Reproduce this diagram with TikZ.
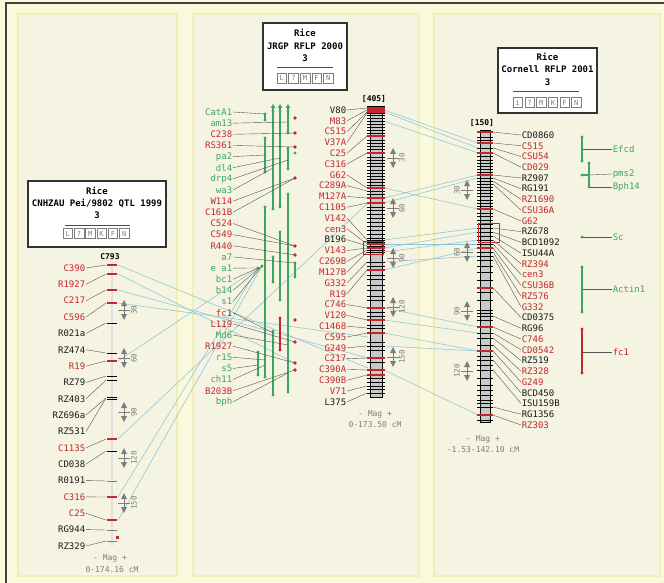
\documentclass[tikz,border=0pt]{standalone}
\usepackage{fontspec}
\setmonofont{DejaVu Sans Mono}
\usetikzlibrary{arrows.meta}

\definecolor{bgout}{RGB}{251,249,219}
\definecolor{panelfill}{RGB}{245,244,226}
\definecolor{panelrim}{RGB}{242,238,184}
\definecolor{mred}{RGB}{196,38,44}
\definecolor{mgreen}{RGB}{62,165,95}
\definecolor{mblack}{RGB}{25,25,25}
\definecolor{lnk}{RGB}{140,196,214}
\definecolor{lead}{RGB}{85,85,85}
\definecolor{bargrey}{RGB}{200,200,200}
\definecolor{sgrey}{RGB}{125,125,125}

% scale marker: x, y, value, label offset
\newcommand{\magbar}[4]{%
  \fill[sgrey] (#1-3,#2-4) -- (#1+3,#2-4) -- (#1,#2-10) -- cycle;
  \fill[sgrey] (#1-3,#2+4) -- (#1+3,#2+4) -- (#1,#2+10) -- cycle;
  \draw[sgrey, line width=0.8pt] (#1,#2-4) -- (#1,#2+4);
  \draw[sgrey, line width=0.8pt] (#1-6,#2) -- (#1+6,#2);
  \node[scl, rotate=90] (m#1-#2) at (#1+#4,#2) {#3};
}

\begin{document}
\begin{tikzpicture}[x=1pt, y=-1pt,
  lbl/.style={font=\ttfamily\fontsize{9}{9}\selectfont, inner sep=0.6pt},
  ttl/.style={font=\ttfamily\bfseries\fontsize{9}{9}\selectfont, inner sep=0pt},
  legend/.style={font=\ttfamily\fontsize{8}{8}\selectfont, text=sgrey, inner sep=0pt},
  scl/.style={font=\ttfamily\fontsize{7.5}{7.5}\selectfont, text=sgrey, inner sep=0pt},
  btn/.style={draw=sgrey, fill=white, minimum width=9.5pt, minimum height=10pt, inner sep=0pt, font=\ttfamily\fontsize{7}{7}\selectfont, text=sgrey},
  tbox/.style={draw=black!80, line width=1.2pt, fill=white, inner sep=0pt},
  panel/.style={fill=panelfill, draw=panelrim, line width=2.5pt},
  leader/.style={draw=lead, line width=0.4pt},
  link/.style={draw=lnk, line width=0.55pt},
  qtl/.style={line width=1.1pt},
  rtick/.style={mred, line width=1.1pt},
  ktick/.style={black, line width=0.9pt}
]
\fill[bgout] (0,0) rectangle (664,583);
\useasboundingbox (0,0) rectangle (664,583);

% panels
\draw[panel] (18,14) rectangle (177,576);
\draw[panel] (193,14) rectangle (419,576);
\draw[panel] (434,14) rectangle (660,576);
\draw[black!75, line width=1.4pt] (6,583) -- (6,3) -- (664,3);

% link end points
\foreach \y in {265,274,290,303,361,439,497,520} \coordinate (ra\y) at (118,\y);
\foreach \y in {203,337,358,368} \coordinate (bl\y) at (368,\y);
\foreach \y in {110,112,121,188,198,203,240,244,248,252,262,270,308,320,333,346,370} \coordinate (br\y) at (384,\y);
\foreach \y in {143,148,153,175,178,209,228,232,240,244,248,256,327,333,351,415} \coordinate (cl\y) at (478,\y);
\coordinate (tq-a) at (258,268);
\coordinate (tq-b) at (262,266);
\coordinate (tq-c) at (295,363);

% correspondence links
\draw[link] (ra265) -- (bl368);
\draw[link] (ra274) -- (tq-c);
\draw[link] (ra290) -- (bl358);
\draw[link] (ra303) -- (bl337);
\draw[link] (ra361) -- (tq-a);
\draw[link] (ra439) -- (bl203);
\draw[link] (ra497) -- (tq-a);
\draw[link] (ra520) -- (tq-b);
\foreach \a/\b in {110/143, 112/148, 121/153, 188/209, 198/175, 203/178, 240/228, 244/244, 248/232, 252/240, 262/256, 270/248, 308/327, 320/333, 333/351, 346/351, 370/415}
  \draw[link] (br\a) -- (cl\b);

% ---- map 1 ----
\node[tbox, minimum width=138pt, minimum height=66pt] (box1) at (97,214) {};
\node[ttl] (rice1) at (97,191) {Rice};
\node[ttl] (map1) at (97,203) {CNHZAU Pei/9802 QTL 1999};
\node[ttl] (chr1) at (97,215) {3};
\draw[black!70, line width=0.8pt] (65,225) -- (130,225);
\foreach \b [count=\j from 0] in {L,?,M,K,F,N}
  \node[btn] (bta\j) at (67.7+11.3*\j,233.5) {\b};
\node[lbl, font=\ttfamily\bfseries\fontsize{8}{8}\selectfont] (top1) at (110,257) {C793};

\draw[black!12, line width=1.5pt] (112,262) -- (112,546);
\foreach \y in {265,274,290,303,361,439,497,520} \draw[rtick] (107,\y) -- (117,\y);
\foreach \y in {323,353,376,380,397,399,451} \draw[ktick] (107,\y) -- (117,\y);
\foreach \y in {481,530,541} \draw[sgrey, line width=0.9pt] (107,\y) -- (117,\y);
\fill[mred] (115.5,535.5) rectangle (118.5,538.5);

\foreach \t/\c/\k [count=\i from 0] in {C390/mred/265, R1927/mred/274, C217/mred/290, C596/mred/303, R021a/mblack/323, RZ474/mblack/353, R19/mred/361, RZ79/mblack/376, RZ403/mblack/380, RZ696a/mblack/398, RZ531/mblack/398, C1135/mred/439, CD038/mblack/451, R0191/mblack/481, C316/mred/497, C25/mred/520, RG944/mblack/530, RZ329/mblack/541}{
  \node[lbl, text=\c, anchor=east] (la\i) at (86,268+16.35*\i) {\t};
  \coordinate (ka\i) at (106,\k);
  \draw[leader] (la\i.east) -- (ka\i);
}
\magbar{124}{310}{30}{10}
\magbar{124}{358}{60}{10}
\magbar{124}{412}{90}{10}
\magbar{124}{458}{120}{10}
\magbar{124}{503}{150}{10}
\node[legend] (mag1) at (110,558) {- Mag +};
\node[legend] (rng1) at (112,570) {0-174.16 cM};

% ---- map 2 ----
\node[tbox, minimum width=84pt, minimum height=67pt] (box2) at (305,56.5) {};
\node[ttl] (rice2) at (305,33) {Rice};
\node[ttl] (map2) at (305,46) {JRGP RFLP 2000};
\node[ttl] (chr2) at (305,58) {3};
\draw[black!70, line width=0.8pt] (277,67) -- (333,67);
\foreach \b [count=\j from 0] in {L,?,M,F,N}
  \node[btn] (btb\j) at (281.8+11.6*\j,78) {\b};
\node[lbl, font=\ttfamily\bfseries\fontsize{8}{8}\selectfont] (top2) at (374,99) {[405]};

% trait track
\foreach \x/\b in {273/209, 280/207, 288/133} {
  \draw[qtl, mgreen, {Triangle[width=4.5pt,length=4pt]}-] (\x,104) -- (\x,\b);
  \fill[mgreen] (\x,\b) circle[radius=1.7pt] (\x,111) circle[radius=1.7pt];
}
\foreach \x/\a/\b in {265/114/120, 265/138/172, 288/148/169, 288/194/392, 265/207/377, 280/232/300, 273/257/282, 295/263/277, 273/331/395, 258/352/375} {
  \draw[qtl, mgreen] (\x,\a) -- (\x,\b);
  \fill[mgreen] (\x,\a) circle[radius=1.7pt] (\x,\b) circle[radius=1.7pt];
}
\draw[qtl, mred] (280,318) -- (280,350);
\fill[mred] (280,318) circle[radius=1.7pt] (280,350) circle[radius=1.7pt];
\foreach \y in {118,133,147,178,246,255,320,342,363,370} \fill[mred] (295,\y) circle[radius=1.9pt];
\fill[mgreen] (295,153) circle[radius=1.7pt] (258,268) circle[radius=1.7pt] (262,266) circle[radius=1.7pt];

\foreach \t/\c/\tx/\ty [count=\i from 0] in {CatA1/mgreen/265/114, am13/mgreen/288/122, C238/mred/295/133, RS361/mred/295/147, pa2/mgreen/265/155, dl4/mgreen/280/158, drp4/mgreen/288/160, wa3/mgreen/273/168, W114/mred/295/178, C161B/mred/295/178, C524/mred/295/246, C549/mred/295/246, R440/mred/295/255, a7/mgreen/295/263, e a1/mgreen/258/268, bc1/mgreen/258/268, b14/mgreen/262/266, s1/mgreen/262/266, fc1/mred/273/333, L119/mred/295/342, Md6/mgreen/288/345, R1927/mred/295/363, r15/mgreen/265/360, s5/mgreen/258/365, ch11/mgreen/265/365, B203B/mred/295/370, bph/mgreen/288/373}{
  \node[lbl, text=\c, anchor=east] (lt\i) at (233,112+11.15*\i) {\t};
  \coordinate (kt\i) at (\tx,\ty);
  \draw[leader] (lt\i.east) -- (kt\i);
}

% bar
\draw[fill=bargrey, line width=0.6pt] (370,107) rectangle (382,397);
\draw[black, line width=1.6pt] (367,107) -- (385,107);
\foreach \y in {113,115,118,121,124,127,130,133,140,143,146,149,157,160,163,166,170,173,176,179,182,185,191,194,207,210,214,218,222,226,230,234,238,240,242,246,250,252,262,266,275,279,285,290,296,300,312,316,325,328,342,346,350,362,378,382,386,389,393}
  \draw[ktick] (367,\y) -- (385,\y);
\foreach \y in {108,110,112,136,153,188,198,203,244,248,270,308,320,333,358,370,375}
  \draw[rtick] (367,\y) -- (385,\y);
\draw[mred, line width=0.9pt] (363,241) rectangle (383,254);

\foreach \t/\c/\k [count=\i from 0] in {V80/mblack/108, M83/mred/110, C515/mred/112, V37A/mred/113, C25/mred/136, C316/mred/153, G62/mred/188, C289A/mred/191, M127A/mred/198, C1105/mred/203, V142/mred/240, cen3/mred/244, B196/mblack/246, V143/mred/248, C269B/mred/250, M127B/mred/252, G332/mred/262, R19/mred/270, C746/mred/308, V120/mred/320, C1468/mred/328, C595/mred/333, G249/mred/346, C217/mred/358, C390A/mred/370, C390B/mred/375, V71/mred/386, L375/mblack/393}{
  \node[lbl, text=\c, anchor=east] (lb\i) at (347,110+10.81*\i) {\t};
  \coordinate (kb\i) at (367,\k);
  \draw[leader] (lb\i.east) -- (kb\i);
}
\magbar{393}{158}{30}{9}
\magbar{393}{208}{60}{9}
\magbar{393}{258}{90}{9}
\magbar{393}{307}{120}{9}
\magbar{393}{357}{150}{9}
\node[legend] (mag2) at (375,414) {- Mag +};
\node[legend] (rng2) at (375,425) {0-173.50 cM};

% ---- map 3 ----
\node[tbox, minimum width=99pt, minimum height=65pt] (box3) at (547.5,80.5) {};
\node[ttl] (rice3) at (547.5,57) {Rice};
\node[ttl] (map3) at (547.5,69) {Cornell RFLP 2001};
\node[ttl] (chr3) at (547.5,82) {3};
\draw[black!70, line width=0.8pt] (513,91) -- (579,91);
\foreach \b [count=\j from 0] in {i,?,M,K,F,N}
  \node[btn] (btc\j) at (517.8+11.7*\j,102.5) {\b};
\node[lbl, font=\ttfamily\bfseries\fontsize{8}{8}\selectfont] (top3) at (482,123) {[150]};

\draw[fill=bargrey, line width=0.6pt] (480,130) rectangle (490,422);
\foreach \y in {137,140,148,156,160,163,166,169,172,178,181,184,187,190,193,196,200,203,206,213,216,220,224,228,232,236,240,244,252,256,260,266,272,280,292,300,310,313,316,320,333,338,345,356,360,365,370,378,385,390,395,400,403,407,420}
  \draw[ktick] (477,\y) -- (493,\y);
\foreach \y in {132,143,153,175,209,248,288,327,351,415}
  \draw[rtick] (477,\y) -- (493,\y);
\draw[mred, line width=0.9pt] (478,223) rectangle (499,242);

\foreach \t/\c/\k [count=\i from 0] in {CD0860/mblack/132, C515/mred/143, CSU54/mred/148, CD029/mred/153, RZ907/mblack/175, RG191/mblack/178, RZ1690/mred/181, CSU36A/mred/184, G62/mred/209, RZ678/mblack/228, BCD1092/mblack/232, ISU44A/mblack/236, RZ394/mred/240, cen3/mred/244, CSU36B/mred/248, RZ576/mred/252, G332/mred/256, CD0375/mblack/288, RG96/mblack/316, C746/mred/327, CD0542/mred/333, RZ519/mblack/338, RZ328/mred/345, G249/mred/351, BCD450/mblack/360, ISU159B/mblack/370, RG1356/mblack/407, RZ303/mred/415}{
  \node[lbl, text=\c, anchor=west] (lc\i) at (521,135+10.74*\i) {\t};
  \coordinate (kc\i) at (493,\k);
  \draw[leader] (kc\i) -- (lc\i.west);
}
\magbar{467}{190}{30}{-10}
\magbar{467}{252}{60}{-10}
\magbar{467}{311}{90}{-10}
\magbar{467}{371}{120}{-10}
\node[legend] (mag3) at (483,439) {- Mag +};
\node[legend] (rng3) at (483,450) {-1.53-142.10 cM};

% traits on map 3
\node[lbl, text=mgreen, anchor=west] (efcd) at (612,149) {Efcd};
\node[lbl, text=mgreen, anchor=west] (pms2) at (612,174) {pms2};
\node[lbl, text=mgreen, anchor=west] (bph14) at (612,187) {Bph14};
\node[lbl, text=mgreen, anchor=west] (sc) at (612,237) {Sc};
\node[lbl, text=mgreen, anchor=west] (actin) at (612,289) {Actin1};
\node[lbl, text=mred, anchor=west] (fc) at (612,352) {fc1};
\coordinate (q-efcd) at (582,149);
\coordinate (q-pms) at (589,175);
\coordinate (q-bph) at (589,187);
\coordinate (q-sc) at (582,237);
\coordinate (q-act) at (582,289);
\coordinate (q-fc) at (582,352);
\draw[leader] (q-efcd) -- (efcd.west);
\draw[leader] (q-pms) -- (pms2.west);
\draw[leader] (q-bph) -- (bph14.west);
\draw[leader] (q-sc) -- (sc.west);
\draw[leader] (q-act) -- (actin.west);
\draw[leader] (q-fc) -- (fc.west);
\foreach \x/\a/\b in {582/137/161, 589/163/187, 582/267/312} {
  \draw[qtl, mgreen] (\x,\a) -- (\x,\b);
  \fill[mgreen] (\x,\a) circle[radius=1.7pt] (\x,\b) circle[radius=1.7pt];
}
\draw[qtl, mgreen] (582,175) -- (589,175);
\fill[mgreen] (582,175) circle[radius=1.7pt] (582,237) circle[radius=1.7pt];
\draw[qtl, mred] (582,329) -- (582,373);
\fill[mred] (582,329) circle[radius=1.7pt] (582,373) circle[radius=1.7pt];
\end{tikzpicture}
\end{document}
